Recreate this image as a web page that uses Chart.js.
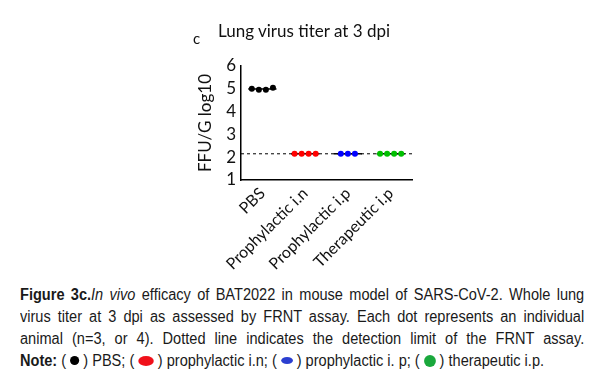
<!DOCTYPE html>
<html>
<head>
<meta charset="utf-8">
<script src="https://cdn.jsdelivr.net/npm/chart.js@4"></script>
<style>
  body { margin: 0; background: #fff; width: 593px; height: 384px; position: relative; overflow: hidden; }
  #wrap { position: absolute; left: 0; top: 0; width: 593px; height: 280px; }
  #title { position: absolute; top: 20px; left: 0; font-family: Lato, "Open Sans", sans-serif; font-size: 17px; color: #111; white-space: nowrap; }
  #title .c { position: absolute; left: 193px; top: 9px; font-size: 15px; }
  #title .t { position: absolute; left: 218px; top: 0; }
  #caption { position: absolute; left: 20px; top: 284px; width: 620px; transform: scaleX(0.91); transform-origin: 0 0; font-family: "Liberation Sans", Arial, sans-serif; font-size: 16px; line-height: 22px; color: #1a1a1a; }
  #caption div { white-space: nowrap; text-align: justify; text-align-last: justify; }
  #caption div.last { text-align-last: left; }
  .dot { display: inline-block; border-radius: 50%; vertical-align: middle; position: relative; top: -1px; }
</style>
</head>
<body>
<div id="wrap"><canvas id="myChart"></canvas></div>
<div id="title"><span class="c">c</span><span class="t">Lung virus titer at 3 dpi</span></div>
<div id="caption">
  <div><b>Figure 3c.</b><i>In vivo</i> efficacy of BAT2022 in mouse model of SARS-CoV-2. Whole lung</div>
  <div>virus titer at 3 dpi as assessed by FRNT assay. Each dot represents an individual</div>
  <div>animal (n=3, or 4). Dotted line indicates the detection limit of the FRNT assay.</div>
  <div class="last"><b>Note:</b> ( <span class="dot" style="width:10px;height:9px;background:#000"></span> ) PBS; ( <span class="dot" style="width:17px;height:10px;background:#f0101a"></span> ) prophylactic i.n; ( <span class="dot" style="width:13px;height:7px;background:#2b3fd0"></span> ) prophylactic i. p; ( <span class="dot" style="width:13px;height:12px;background:#1aa83c"></span> ) therapeutic i.p.</div>
</div>
<script>
const ctx = document.getElementById('myChart').getContext('2d');

// groups and per-animal values (log10 FFU/g)
const groups = ['PBS', 'Prophylactic i.n', 'Prophylactic i.p', 'Therapeutic i.p'];
const pbsValues = [5.0, 4.96, 4.96, 5.05];
const inValues = [2.15, 2.15, 2.15, 2.15];
const ipValues = [2.15, 2.15, 2.15];
const therValues = [2.15, 2.15, 2.15, 2.15];
const detectionLimit = 2.15;
const yTicks = [1, 2, 3, 4, 5, 6];

const colors = ['#000000', '#ff0000', '#0000ff', '#00c000'];
const allValues = [pbsValues, inValues, ipValues, therValues];

// spread the dots of each group side by side around the category position
function groupPoints(values, idx) {
  const n = values.length;
  return values.map((v, j) => ({ x: idx + 1 + (j - (n - 1) / 2) * 0.165, y: v }));
}

function meanLine(values, idx) {
  const m = values.reduce((a, b) => a + b, 0) / values.length;
  return [{ x: idx + 1 - 0.33, y: m }, { x: idx + 1 + 0.33, y: m }];
}

const datasets = [];

// detection limit
datasets.push({
  type: 'line',
  order: 2,
  data: [{ x: 0.5, y: detectionLimit }, { x: 4.5, y: detectionLimit }],
  borderColor: '#000',
  borderWidth: 1,
  borderDash: [3, 3],
  pointRadius: 0
});

allValues.forEach((vals, i) => {
  datasets.push({
    type: 'line',
    order: 1,
    data: meanLine(vals, i),
    borderColor: '#000',
    borderWidth: 1.5,
    pointRadius: 0
  });
});

allValues.forEach((vals, i) => {
  datasets.push({
    type: 'scatter',
    order: 0,
    label: groups[i],
    data: groupPoints(vals, i),
    backgroundColor: colors[i],
    borderColor: colors[i],
    pointRadius: 3,
    pointBorderWidth: 0
  });
});

const myChart = new Chart(ctx, {
  type: 'scatter',
  data: { datasets },
  options: {
    responsive: true,
    maintainAspectRatio: false,
    animation: false,
    layout: { padding: { top: 66, right: 181, left: 195, bottom: 0 } },
    plugins: { legend: { display: false }, tooltip: { enabled: false } },
    scales: {
      x: {
        type: 'linear',
        min: 0.5,
        max: 4.5,
        afterBuildTicks: axis => { axis.ticks = groups.map((g, i) => ({ value: i + 1 })); },
        afterFit: axis => { axis.height = 100; },
        grid: { display: false, drawTicks: true, tickLength: 4, tickColor: '#000' },
        border: { color: '#000', width: 1.5 },
        ticks: {
          callback: v => groups[v - 1],
          color: '#111',
          autoSkip: false,
          minRotation: 45,
          maxRotation: 45,
          padding: 0,
          font: { family: 'Lato', size: 16 }
        }
      },
      y: {
        min: 1,
        max: 6,
        afterBuildTicks: axis => { axis.ticks = yTicks.map(v => ({ value: v })); },
        afterFit: axis => { axis.width = 46; },
        grid: { display: false, drawTicks: true, tickLength: 4, tickColor: '#000' },
        border: { color: '#000', width: 1.5 },
        title: {
          display: true,
          text: 'FFU/G log10',
          color: '#111',
          padding: { top: 0, bottom: 0 },
          font: { family: 'Lato', size: 17 }
        },
        ticks: {
          color: '#111',
          autoSkip: false,
          padding: 1,
          font: { family: 'Lato', size: 17 }
        }
      }
    }
  }
});
</script>
</body>
</html>
